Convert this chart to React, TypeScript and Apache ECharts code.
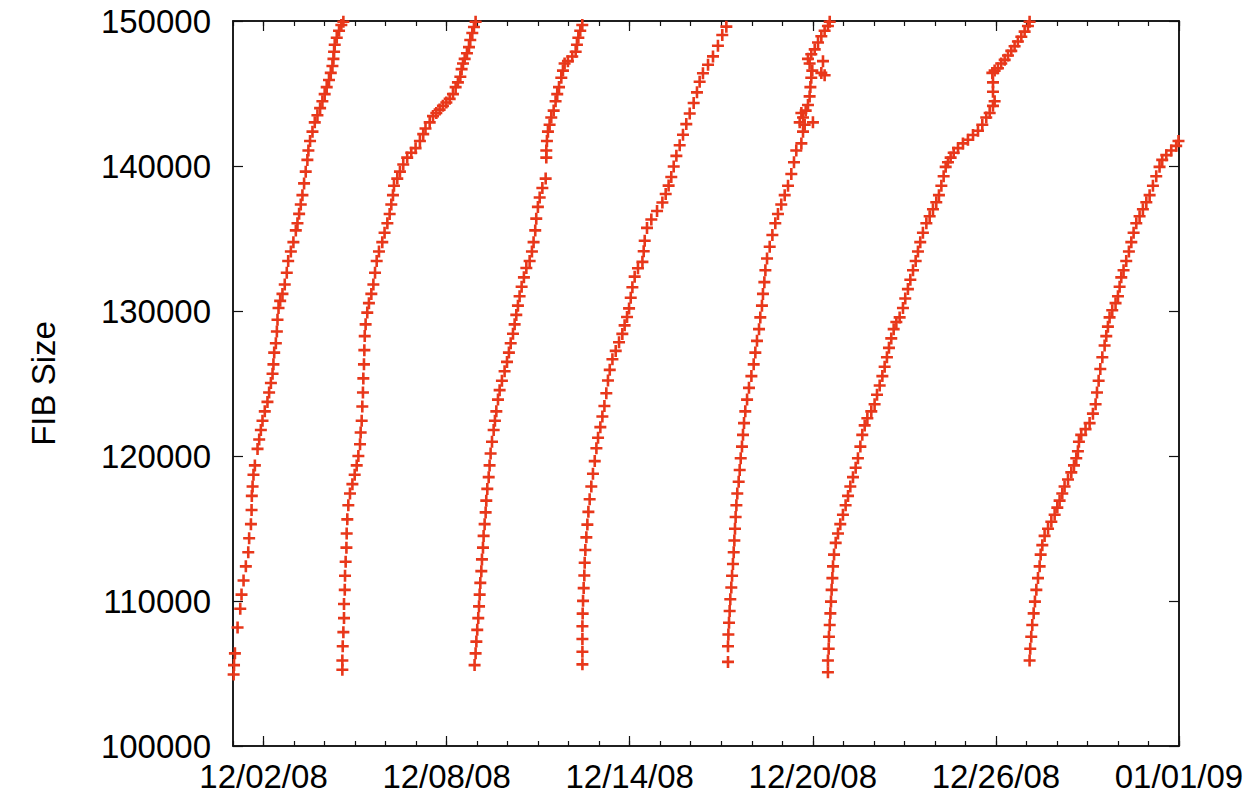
import React, { useEffect, useRef } from "react";
import * as echarts from "echarts";

// x: hours since 12/01/08 00:00, y: FIB size
const cycle1: number[][] = [[0.5,104930],[0.8,105580],[1.5,106390],[3.6,108170],[5.7,109470],[6.7,110440],[8.3,111410],[10.1,112390],[12.0,113360],[12.7,114330],[14.1,115300],[14.6,116280],[14.8,117250],[15.4,117900],[16.1,118710],[17.2,119350],[19.3,120490],[20.6,121140],[21.9,121790],[23.2,122430],[25.0,123080],[27.1,123730],[28.4,124380],[29.8,125030],[31.1,125670],[31.8,126320],[32.4,127130],[33.7,127780],[34.5,128590],[35.0,129400],[35.8,130210],[37.1,130700],[38.9,131180],[40.7,131830],[42.3,132640],[43.4,133450],[45.5,134100],[47.5,134750],[49.4,135560],[50.7,136050],[52.0,136700],[53.3,137340],[54.6,137990],[55.9,138800],[57.2,139610],[58.5,140420],[59.3,141070],[60.6,141720],[62.5,142370],[64.3,143010],[66.4,143500],[68.5,143990],[70.3,144470],[72.1,144960],[73.7,145440],[75.5,145930],[76.9,146420],[78.2,146900],[79.0,147390],[79.5,147880],[80.0,148360],[81.6,148850],[83.4,149330],[85.2,149720],[86.8,149950]];
const cycle2: number[][] = [[86.0,105260],[86.0,105900],[86.3,106880],[86.8,107850],[87.3,108820],[87.3,109790],[87.9,110770],[88.1,111740],[88.6,112710],[89.2,113680],[89.4,114660],[89.9,115630],[90.7,116600],[92.0,117410],[93.9,118060],[95.7,118710],[97.3,119350],[98.6,120000],[99.9,120810],[100.4,121620],[101.2,122430],[101.7,123410],[102.2,124380],[102.5,125350],[103.0,126320],[103.3,127300],[103.6,128270],[104.3,129080],[105.6,129890],[106.9,130540],[108.8,131180],[110.4,131830],[111.7,132640],[113.0,133450],[114.8,134100],[117.4,134750],[119.2,135400],[121.4,136050],[123.2,136690],[124.5,137340],[125.8,137990],[126.6,138640],[129.2,139130],[131.3,139610],[133.9,140100],[137.0,140580],[140.2,140910],[143.6,141230],[147.0,141720],[149.6,142200],[151.4,142590],[154.7,143010],[157.3,143440],[159.9,143660],[162.5,143890],[165.1,144150],[167.8,144380],[170.4,144630],[173.0,144960],[175.1,145440],[176.9,145770],[178.8,146160],[179.8,146680],[180.9,147070],[182.2,147390],[184.0,147780],[185.6,148200],[186.6,148690],[188.2,149170],[189.5,149590],[190.8,149950]];
const cycle3: number[][] = [[190.0,105580],[190.8,106390],[191.4,107200],[192.1,108010],[192.9,108820],[193.5,109630],[194.0,110440],[194.5,111250],[195.3,112060],[195.8,112870],[196.6,113680],[197.1,114490],[197.9,115300],[198.7,116110],[199.2,116920],[200.0,117730],[201.1,118540],[201.8,119350],[202.6,120170],[203.7,120980],[205.0,121790],[206.0,122430],[207.1,123080],[208.4,123890],[209.7,124540],[211.5,125190],[213.6,125840],[215.5,126490],[217.0,127130],[218.4,127780],[220.2,128430],[221.5,129080],[222.8,129730],[224.1,130370],[225.4,131020],[227.0,131670],[228.8,132320],[230.7,132970],[233.3,133450],[235.1,134100],[236.4,134750],[237.7,135560],[238.5,136370],[239.8,137180],[241.2,137830],[243.3,138480],[245.9,139130],[246.4,140580],[246.4,141070],[246.9,141720],[247.7,142370],[249.0,142850],[250.3,143340],[252.2,143820],[253.7,144470],[255.0,144960],[256.4,145440],[258.2,146090],[259.5,146580],[260.8,147070],[263.4,147230],[266.8,147550],[269.5,147880],[270.5,148360],[271.6,148850],[273.1,149330],[274.7,149720]];
const cycle4: number[][] = [[274.8,105630],[274.8,106500],[274.8,107380],[274.8,108260],[275.0,109130],[275.3,110010],[275.8,110890],[276.3,111760],[276.6,112640],[277.1,113520],[277.9,114390],[278.7,115270],[279.5,116150],[280.5,117020],[281.8,117900],[283.1,118780],[284.5,119650],[285.8,120530],[287.1,121260],[288.9,121990],[290.5,122720],[292.1,123450],[293.6,124330],[294.9,125210],[296.3,125940],[298.4,126670],[301.0,127250],[303.6,127840],[306.2,128420],[308.0,129010],[309.9,129590],[311.5,130180],[312.8,130910],[314.1,131640],[315.9,132370],[318.5,132950],[322.0,133390],[323.0,134120],[323.8,134850],[325.6,135730],[329.0,136310],[333.5,136900],[337.7,137480],[340.3,138070],[342.6,138650],[344.7,139240],[346.6,139970],[348.7,140700],[351.3,141430],[353.9,142160],[356.5,142890],[359.2,143620],[362.3,144350],[364.9,145080],[367.0,145810],[369.6,146400],[373.6,146980],[377.5,147560],[381.4,148290],[384.8,149030],[388.0,149610]];
const cycle5: number[][] = [[389.3,105800],[389.3,106880],[389.6,107690],[390.1,108500],[390.6,109310],[391.1,110120],[391.9,110930],[392.5,111740],[393.2,112550],[393.8,113360],[394.3,114170],[394.8,114980],[395.3,115790],[395.9,116600],[396.6,117410],[397.7,118220],[398.5,119030],[399.3,119840],[400.3,120650],[401.1,121460],[401.9,122270],[402.9,123080],[404.3,123890],[405.8,124700],[407.7,125510],[409.5,126320],[410.8,127130],[412.1,127940],[413.7,128750],[414.7,129560],[416.0,130370],[416.8,131180],[417.9,131990],[418.7,132810],[420.0,133620],[422.1,134430],[424.2,135240],[426.5,136050],[428.6,136690],[431.2,137340],[433.9,137990],[436.5,138640],[439.1,139450],[441.2,140260],[443.0,141070],[447.0,141560],[448.3,142370],[449.6,142850],[448.3,143340],[447.0,143660],[450.4,143820],[452.2,144210],[453.5,144800],[454.1,145440],[454.8,146090],[455.6,146580],[453.5,147070],[452.2,147390],[454.8,147710],[457.5,148040],[460.1,148520],[462.7,148950],[465.3,149330],[467.9,149660],[469.3,149950],[462.7,146420],[465.3,146260],[464.0,147230],[456.1,143010],[445.7,143010]];
const cycle6: number[][] = [[467.9,105090],[467.9,105900],[468.5,106710],[468.7,107530],[469.3,108340],[469.8,109150],[470.3,109960],[470.8,110770],[471.4,111580],[471.9,112390],[472.7,113200],[474.0,114010],[475.8,114660],[477.6,115300],[479.7,115950],[481.8,116600],[483.7,117250],[485.5,117900],[487.6,118540],[489.7,119190],[491.5,119840],[493.4,120650],[494.9,121460],[496.8,122110],[498.9,122600],[502.0,123080],[504.6,123570],[506.5,124220],[508.6,124860],[510.7,125510],[512.5,126160],[514.3,126810],[515.9,127460],[517.7,128110],[519.6,128750],[521.7,129240],[524.3,129560],[526.9,130210],[528.7,130860],[530.8,131510],[532.7,132160],[534.8,132810],[536.9,133450],[538.7,134100],[540.5,134750],[542.6,135400],[545.3,136050],[547.9,136530],[550.5,137020],[553.1,137500],[555.2,137990],[557.1,138640],[558.9,139290],[560.5,139940],[562.3,140260],[564.4,140580],[566.8,140910],[570.2,141230],[574.1,141560],[578.0,141810],[582.0,142140],[585.9,142430],[589.3,142850],[592.4,143340],[595.1,143660],[597.7,144150],[599.0,144470],[597.7,145120],[597.7,145770],[597.2,146420],[599.0,146580],[601.6,146740],[604.2,147070],[606.9,147320],[609.5,147620],[612.1,147940],[614.7,148260],[617.3,148590],[620.0,148910],[622.6,149270],[625.2,149660],[626.5,149950]];
const cycle7: number[][] = [[626.5,105900],[627.0,106710],[627.8,107530],[628.6,108340],[629.7,109150],[630.7,109960],[631.8,110770],[633.1,111580],[634.4,112390],[635.2,113200],[636.5,113850],[638.3,114490],[641.0,114980],[643.6,115470],[646.2,115950],[648.3,116440],[650.1,116920],[652.2,117410],[654.0,117900],[656.7,118380],[659.3,118870],[661.4,119350],[663.2,119840],[664.5,120330],[665.3,120980],[667.1,121460],[670.5,121850],[673.7,122270],[676.3,122920],[678.4,123570],[679.5,124380],[680.8,125190],[682.1,126000],[683.7,126810],[685.5,127620],[686.8,128270],[688.1,128920],[689.4,129560],[691.5,130050],[694.1,130540],[696.0,131020],[697.3,131670],[698.6,132320],[700.4,132810],[702.5,133450],[704.6,134100],[706.5,134750],[708.3,135400],[710.4,136050],[713.0,136530],[715.6,137020],[718.3,137500],[720.9,137990],[723.5,138640],[726.1,139290],[728.7,139940],[730.8,140420],[734.0,140750],[737.9,141070],[741.8,141390],[743.6,141720]];

const cycles = [cycle1, cycle2, cycle3, cycle4, cycle5, cycle6, cycle7];
const xMajorTicks = [24, 168, 312, 456, 600, 744]; // 12/02/08 ... 01/01/09
const xMin = 0;
const xMax = 744;
const yMin = 100000;
const yMax = 150000;
const yStep = 10000;
const yAxisTitle = "FIB Size";

const BASE = Date.UTC(2008, 11, 1);
const pad = (n: number) => (n < 10 ? "0" + n : "" + n);
const fmtDate = (h: number) => {
  const d = new Date(BASE + Math.round(h) * 3600000);
  return pad(d.getUTCMonth() + 1) + "/" + pad(d.getUTCDate()) + "/" + pad(d.getUTCFullYear() % 100);
};

const FONT = "Liberation Sans, Arial, Helvetica, sans-serif";
const RED = "#e8371a";
const AX = "#111";

export default function App() {
  const ref = useRef<HTMLDivElement>(null);
  useEffect(() => {
    if (!ref.current) return;
    const chart = echarts.init(ref.current, undefined, { renderer: "svg" });
    const baseX = {
      type: "value" as const,
      min: xMin,
      max: xMax,
      splitLine: { show: false },
    };
    chart.setOption({
      animation: false,
      backgroundColor: "#fff",
      grid: {
        left: 233,
        right: 71,
        top: 21,
        bottom: 51,
        show: true,
        borderColor: AX,
        borderWidth: 1.5,
        backgroundColor: "transparent",
      },
      xAxis: [
        {
          ...baseX,
          position: "bottom",
          axisLine: { show: true, onZero: false, lineStyle: { color: AX, width: 1.5 } },
          axisTick: { show: true, inside: true, length: 10, customValues: xMajorTicks, lineStyle: { color: AX, width: 1.2 } },
          axisLabel: { show: true, customValues: xMajorTicks, formatter: (v: number) => fmtDate(v), fontSize: 33, color: "#000", fontFamily: FONT, margin: 14 },
        },
        {
          ...baseX,
          position: "bottom",
          interval: 24,
          axisLine: { show: false, onZero: false },
          axisTick: { show: true, inside: true, length: 5, lineStyle: { color: AX, width: 1.2 } },
          axisLabel: { show: false },
        },
        {
          ...baseX,
          position: "top",
          axisLine: { show: true, onZero: false, lineStyle: { color: AX, width: 1.5 } },
          axisTick: { show: true, inside: true, length: 10, customValues: xMajorTicks, lineStyle: { color: AX, width: 1.2 } },
          axisLabel: { show: false },
        },
        {
          ...baseX,
          position: "top",
          interval: 24,
          axisLine: { show: false, onZero: false },
          axisTick: { show: true, inside: true, length: 5, lineStyle: { color: AX, width: 1.2 } },
          axisLabel: { show: false },
        },
      ],
      yAxis: [
        {
          type: "value",
          min: yMin,
          max: yMax,
          interval: yStep,
          position: "left",
          name: yAxisTitle,
          nameLocation: "middle",
          nameGap: 173,
          nameTextStyle: { fontSize: 33, color: "#000", fontFamily: FONT },
          axisLine: { show: true, onZero: false, lineStyle: { color: AX, width: 1.5 } },
          axisTick: { show: true, inside: true, length: 10, lineStyle: { color: AX, width: 1.2 } },
          axisLabel: { fontSize: 33, color: "#000", fontFamily: FONT, margin: 22, formatter: (v: number) => String(v) },
          splitLine: { show: false },
        },
        {
          type: "value",
          min: yMin,
          max: yMax,
          interval: yStep,
          position: "right",
          axisLine: { show: true, onZero: false, lineStyle: { color: AX, width: 1.5 } },
          axisTick: { show: true, inside: true, length: 10, lineStyle: { color: AX, width: 1.2 } },
          axisLabel: { show: false },
          splitLine: { show: false },
        },
      ],
      series: cycles.map((c, i) => ({
        type: "scatter",
        name: "cycle " + (i + 1),
        xAxisIndex: 0,
        yAxisIndex: 0,
        data: c,
        symbol: "path://M0 5H10M5 0V10",
        symbolSize: 12,
        itemStyle: { color: "rgba(0,0,0,0)", borderColor: RED, borderWidth: 2.6, opacity: 1 },
        emphasis: { disabled: true },
      })),
    });
    return () => chart.dispose();
  }, []);
  return (
    <div
      ref={ref}
      style={{ position: "fixed", left: 0, top: 0, width: 1250, height: 797, background: "#fff" }}
    />
  );
}
